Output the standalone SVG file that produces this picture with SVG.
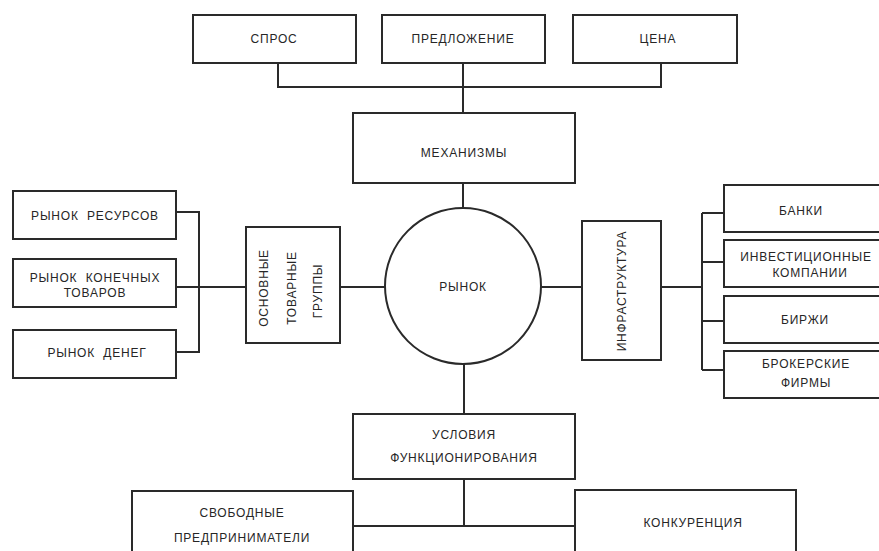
<svg xmlns="http://www.w3.org/2000/svg" width="879" height="551" viewBox="0 0 879 551">
<style>
.b{fill:none;stroke:#2a2a2a;stroke-width:2}
.c{fill:none;stroke:#2a2a2a;stroke-width:2}
text{font-family:"Liberation Sans","DejaVu Sans",sans-serif;font-size:12px;fill:#262626;text-anchor:middle;dominant-baseline:central;letter-spacing:0.8px;white-space:pre}
</style>
<rect width="879" height="551" fill="#fff"/>
<g id="connectors">
<path class="c" d="M278 63V87H661V63M463 63V113M463 183V208M385 287H340M176 212H199V352H176M176 287H246M541 287H582M661 287H702M702 213V370M702 213H724M702 262H724M702 321H724M702 370H724M464 364V414M464 479V526M353 526H575"/>
</g>
<g id="spros"><rect class="b" x="193" y="15" width="163" height="48"/><text x="274" y="39">СПРОС</text></g>
<g id="predlozhenie"><rect class="b" x="382" y="15" width="163" height="48"/><text x="463" y="39">ПРЕДЛОЖЕНИЕ</text></g>
<g id="tsena"><rect class="b" x="573" y="15" width="164" height="48"/><text x="658" y="39">ЦЕНА</text></g>
<g id="mekhanizmy"><rect class="b" x="353" y="113" width="222" height="70"/><text x="464" y="153">МЕХАНИЗМЫ</text></g>
<g id="rynok"><circle class="b" cx="463" cy="286" r="78"/><text x="463" y="287">РЫНОК</text></g>
<g id="rynok-resursov"><rect class="b" x="13" y="191" width="163" height="48"/><text x="95" y="216" xml:space="preserve">РЫНОК  РЕСУРСОВ</text></g>
<g id="rynok-konechnykh"><rect class="b" x="13" y="259" width="163" height="48"/><text x="95" y="278" xml:space="preserve">РЫНОК  КОНЕЧНЫХ</text><text x="95" y="293">ТОВАРОВ</text></g>
<g id="rynok-deneg"><rect class="b" x="13" y="330" width="163" height="48"/><text x="97" y="353" xml:space="preserve">РЫНОК  ДЕНЕГ</text></g>
<g id="osnovnye"><rect class="b" x="246" y="227" width="94" height="116"/>
<text transform="translate(264,288) rotate(-90)">ОСНОВНЫЕ</text>
<text transform="translate(292,288) rotate(-90)">ТОВАРНЫЕ</text>
<text transform="translate(318,291) rotate(-90)">ГРУППЫ</text></g>
<g id="infrastruktura"><rect class="b" x="582" y="221" width="79" height="139"/><text transform="translate(622,291) rotate(-90)">ИНФРАСТРУКТУРА</text></g>
<g id="banki"><rect class="b" x="724" y="185" width="170" height="47"/><text x="801" y="211">БАНКИ</text></g>
<g id="invest"><rect class="b" x="724" y="240" width="170" height="47"/><text x="806" y="257">ИНВЕСТИЦИОННЫЕ</text><text x="810" y="273">КОМПАНИИ</text></g>
<g id="birzhi"><rect class="b" x="724" y="296" width="170" height="47"/><text x="805" y="320">БИРЖИ</text></g>
<g id="brokerskie"><rect class="b" x="724" y="351" width="170" height="47"/><text x="806" y="364">БРОКЕРСКИЕ</text><text x="806" y="383">ФИРМЫ</text></g>
<g id="usloviya"><rect class="b" x="353" y="414" width="222" height="65"/><text x="464" y="435">УСЛОВИЯ</text><text x="464" y="458">ФУНКЦИОНИРОВАНИЯ</text></g>
<g id="svobodnye"><rect class="b" x="132" y="491" width="221" height="70"/><text x="242" y="513">СВОБОДНЫЕ</text><text x="242" y="538">ПРЕДПРИНИМАТЕЛИ</text></g>
<g id="konkurentsiya"><rect class="b" x="575" y="490" width="221" height="71"/><text x="693" y="523">КОНКУРЕНЦИЯ</text></g>
</svg>
